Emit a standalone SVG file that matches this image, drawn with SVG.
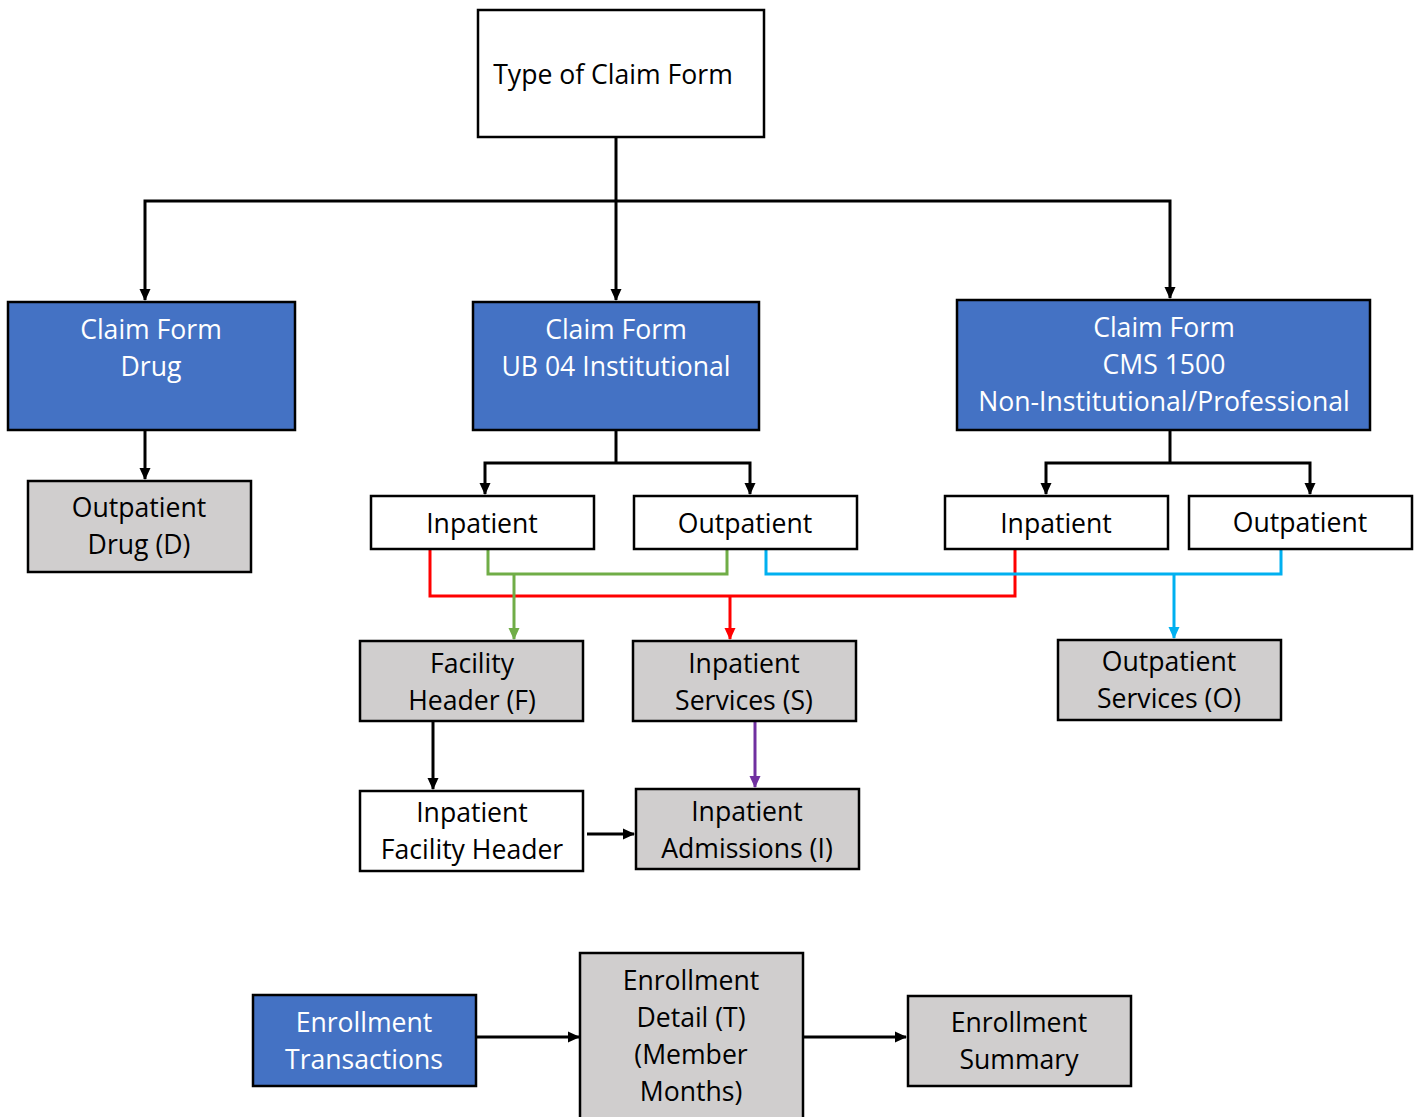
<svg xmlns="http://www.w3.org/2000/svg" width="1421" height="1117" viewBox="0 0 1421 1117">
<style>
.box{stroke:#000;stroke-width:2.5}
.w{fill:#fff}
.b{fill:#4472C4}
.g{fill:#D0CECE}
text{font-family:"Open Sans","Noto Sans","DejaVu Sans",sans-serif;font-size:26.6px;text-anchor:middle;fill:#000}
.wt{fill:#fff}
.c{fill:none;stroke-width:3}
</style>
<defs>
<marker id="ak" markerWidth="12" markerHeight="12" refX="11" refY="6" orient="auto" markerUnits="userSpaceOnUse"><path d="M0,0.5 L12,6 L0,11.5 Z" fill="#000"/></marker>
<marker id="ag" markerWidth="12" markerHeight="12" refX="11" refY="6" orient="auto" markerUnits="userSpaceOnUse"><path d="M0,0.5 L12,6 L0,11.5 Z" fill="#70AD47"/></marker>
<marker id="ar" markerWidth="12" markerHeight="12" refX="11" refY="6" orient="auto" markerUnits="userSpaceOnUse"><path d="M0,0.5 L12,6 L0,11.5 Z" fill="#FF0000"/></marker>
<marker id="ab" markerWidth="12" markerHeight="12" refX="11" refY="6" orient="auto" markerUnits="userSpaceOnUse"><path d="M0,0.5 L12,6 L0,11.5 Z" fill="#00B0F0"/></marker>
<marker id="ap" markerWidth="12" markerHeight="12" refX="11" refY="6" orient="auto" markerUnits="userSpaceOnUse"><path d="M0,0.5 L12,6 L0,11.5 Z" fill="#7030A0"/></marker>
</defs>
<g id="connectors">
<path class="c" stroke="#000" d="M616,137 V300" marker-end="url(#ak)"/>
<path class="c" stroke="#000" d="M616,201 H145 V300" marker-end="url(#ak)"/>
<path class="c" stroke="#000" d="M616,201 H1170 V298" marker-end="url(#ak)"/>
<path class="c" stroke="#000" d="M145,430 V479" marker-end="url(#ak)"/>
<path class="c" stroke="#000" d="M616,430 V463"/>
<path class="c" stroke="#000" d="M616,463 H485 V494" marker-end="url(#ak)"/>
<path class="c" stroke="#000" d="M616,463 H750 V494" marker-end="url(#ak)"/>
<path class="c" stroke="#000" d="M1170,430 V463"/>
<path class="c" stroke="#000" d="M1170,463 H1046 V494" marker-end="url(#ak)"/>
<path class="c" stroke="#000" d="M1170,463 H1310 V494" marker-end="url(#ak)"/>
<path class="c" stroke="#FF0000" d="M430,549 V596 H1015 V549"/>
<path class="c" stroke="#FF0000" d="M730,596 V639" marker-end="url(#ar)"/>
<path class="c" stroke="#70AD47" d="M488,549 V574 H727 V549"/>
<path class="c" stroke="#70AD47" d="M514,574 V639" marker-end="url(#ag)"/>
<path class="c" stroke="#00B0F0" d="M766,549 V574 H1281 V549"/>
<path class="c" stroke="#00B0F0" d="M1174,574 V638" marker-end="url(#ab)"/>
<path class="c" stroke="#000" d="M433,721 V789" marker-end="url(#ak)"/>
<path class="c" stroke="#7030A0" d="M755,721 V787" marker-end="url(#ap)"/>
<path class="c" stroke="#000" d="M587,834 H634" marker-end="url(#ak)"/>
<path class="c" stroke="#000" d="M476,1037 H579" marker-end="url(#ak)"/>
<path class="c" stroke="#000" d="M803,1037 H906" marker-end="url(#ak)"/>
</g>
<g id="type-of-claim-form"><rect class="box w" x="478" y="10" width="286" height="127"/><text x="613" y="84">Type of Claim Form</text></g>
<g id="claim-form-drug"><rect class="box b" x="8" y="302" width="287" height="128"/><text class="wt" x="151" y="339">Claim Form</text><text class="wt" x="151" y="376">Drug</text></g>
<g id="claim-form-ub04"><rect class="box b" x="473" y="302" width="286" height="128"/><text class="wt" x="616" y="339">Claim Form</text><text class="wt" x="616" y="376">UB 04 Institutional</text></g>
<g id="claim-form-cms1500"><rect class="box b" x="957" y="300" width="413" height="130"/><text class="wt" x="1164" y="337">Claim Form</text><text class="wt" x="1164" y="374">CMS 1500</text><text class="wt" x="1164" y="411">Non-Institutional/Professional</text></g>
<g id="outpatient-drug"><rect class="box g" x="28" y="481" width="223" height="91"/><text x="139" y="517">Outpatient</text><text x="139" y="554">Drug (D)</text></g>
<g id="ub-inpatient"><rect class="box w" x="371" y="496" width="223" height="53"/><text x="482" y="533">Inpatient</text></g>
<g id="ub-outpatient"><rect class="box w" x="634" y="496" width="223" height="53"/><text x="745" y="533">Outpatient</text></g>
<g id="cms-inpatient"><rect class="box w" x="945" y="496" width="223" height="53"/><text x="1056" y="533">Inpatient</text></g>
<g id="cms-outpatient"><rect class="box w" x="1189" y="496" width="223" height="53"/><text x="1300" y="532">Outpatient</text></g>
<g id="facility-header"><rect class="box g" x="360" y="641" width="223" height="80"/><text x="472" y="673">Facility</text><text x="472" y="710">Header (F)</text></g>
<g id="inpatient-services"><rect class="box g" x="633" y="641" width="223" height="80"/><text x="744" y="673">Inpatient</text><text x="744" y="710">Services (S)</text></g>
<g id="outpatient-services"><rect class="box g" x="1058" y="640" width="223" height="80"/><text x="1169" y="671">Outpatient</text><text x="1169" y="708">Services (O)</text></g>
<g id="inpatient-facility-header"><rect class="box w" x="360" y="791" width="223" height="80"/><text x="472" y="822">Inpatient</text><text x="472" y="859">Facility Header</text></g>
<g id="inpatient-admissions"><rect class="box g" x="636" y="789" width="223" height="80"/><text x="747" y="821">Inpatient</text><text x="747" y="858">Admissions (I)</text></g>
<g id="enrollment-transactions"><rect class="box b" x="253" y="995" width="223" height="91"/><text class="wt" x="364" y="1032">Enrollment</text><text class="wt" x="364" y="1069">Transactions</text></g>
<g id="enrollment-detail"><rect class="box g" x="580" y="953" width="223" height="170"/><text x="691" y="990">Enrollment</text><text x="691" y="1027">Detail (T)</text><text x="691" y="1064">(Member</text><text x="691" y="1101">Months)</text></g>
<g id="enrollment-summary"><rect class="box g" x="908" y="996" width="223" height="90"/><text x="1019" y="1032">Enrollment</text><text x="1019" y="1069">Summary</text></g>
</svg>
